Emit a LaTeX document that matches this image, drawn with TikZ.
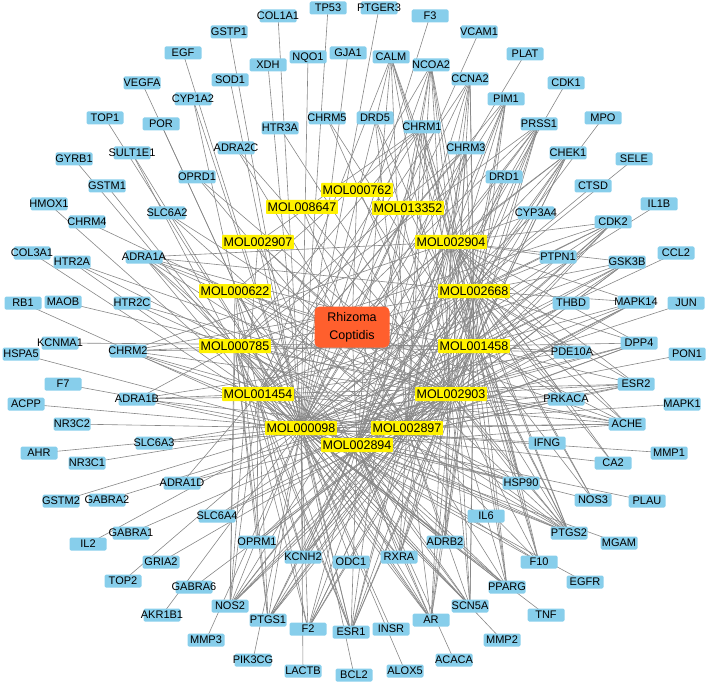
\documentclass[tikz,border=0pt]{standalone}
\usepackage{fontspec}
\setmainfont{Liberation Sans}
\usetikzlibrary{backgrounds}
\definecolor{tblue}{RGB}{135,206,235}
\definecolor{herbc}{RGB}{255,95,45}
\definecolor{edgec}{RGB}{135,135,135}
\tikzset{
 tgt/.style={fill=tblue, rounded corners=1.5pt, minimum width=37pt, minimum height=13pt, inner sep=0pt},
 tlab/.style={inner sep=0pt, font=\fontsize{11}{11}\selectfont, text=black, text height=7.9pt, text depth=0pt},
 mol/.style={fill=yellow, rounded corners=0.8pt, inner xsep=1.5pt, inner ysep=0pt, minimum height=14pt, text height=9pt, text depth=0pt, font=\fontsize{12.5}{12.5}\selectfont},
 herb/.style={fill=herbc, rounded corners=5pt, minimum width=75pt, minimum height=41pt, align=center, font=\fontsize{12.5}{18}\selectfont},
 edge/.style={draw=edgec, line width=0.6pt}
}
\newcommand\tg[3]{\node[tgt,label={[tlab]center:#1}] (#1) at (#2,#3) {};}
\begin{document}
\begin{tikzpicture}[x=1pt,y=-1pt]
\useasboundingbox (0,0) rectangle (708,684);
% central herb
\node[herb] (herb) at (352,327) {Rhizoma\\Coptidis};
% compounds
\node[mol] (mA) at (357,190) {MOL000762};
\node[mol] (mB) at (302,207) {MOL008647};
\node[mol] (mC) at (408,208) {MOL013352};
\node[mol] (mD) at (258,242) {MOL002907};
\node[mol] (mE) at (451,242) {MOL002904};
\node[mol] (mF) at (235,291) {MOL000622};
\node[mol] (mG) at (474,291) {MOL002668};
\node[mol] (mH) at (235,346) {MOL000785};
\node[mol] (mI) at (474,346) {MOL001458};
\node[mol] (mJ) at (258,394) {MOL001454};
\node[mol] (mK) at (451,394) {MOL002903};
\node[mol] (mL) at (301,428) {MOL000098};
\node[mol] (mM) at (407,428) {MOL002897};
\node[mol] (mN) at (357,445) {MOL002894};
% targets
\tg{TP53}{328}{8}
\tg{COL1A1}{278}{16}
\tg{PTGER3}{379}{8}
\tg{F3}{430}{16}
\tg{GSTP1}{229}{32}
\tg{VCAM1}{479}{32}
\tg{EGF}{183}{53}
\tg{NQO1}{308}{57}
\tg{GJA1}{348}{53}
\tg{CALM}{391}{57}
\tg{PLAT}{525}{54}
\tg{XDH}{268}{65}
\tg{NCOA2}{431}{65}
\tg{SOD1}{230}{80}
\tg{CCNA2}{470}{79}
\tg{VEGFA}{142}{83}
\tg{CDK1}{566}{83}
\tg{CYP1A2}{193}{99}
\tg{PIM1}{506}{99}
\tg{TOP1}{105}{118}
\tg{CHRM5}{327}{118}
\tg{DRD5}{375}{118}
\tg{MPO}{603}{118}
\tg{POR}{161}{124}
\tg{PRSS1}{539}{124}
\tg{CHRM1}{422}{127}
\tg{HTR3A}{280}{128}
\tg{ADRA2C}{236}{148}
\tg{CHRM3}{466}{148}
\tg{SULT1E1}{132}{153}
\tg{CHEK1}{568}{153}
\tg{GYRB1}{74}{159}
\tg{SELE}{634}{159}
\tg{OPRD1}{197}{177}
\tg{DRD1}{504}{177}
\tg{GSTM1}{107}{186}
\tg{CTSD}{593}{186}
\tg{HMOX1}{49}{204}
\tg{IL1B}{659}{204}
\tg{SLC6A2}{167}{213}
\tg{CYP3A4}{536}{213}
\tg{CHRM4}{87}{222}
\tg{CDK2}{613}{222}
\tg{COL3A1}{32}{253}
\tg{CCL2}{676}{253}
\tg{ADRA1A}{144}{257}
\tg{PTPN1}{558}{257}
\tg{HTR2A}{72}{262}
\tg{GSK3B}{627}{262}
\tg{RB1}{23}{303}
\tg{JUN}{686}{303}
\tg{MAOB}{63}{302}
\tg{MAPK14}{636}{302}
\tg{HTR2C}{132}{303}
\tg{THBD}{571}{303}
\tg{KCNMA1}{60}{343}
\tg{DPP4}{639}{343}
\tg{HSPA5}{21}{354}
\tg{PON1}{687}{354}
\tg{CHRM2}{128}{351}
\tg{PDE10A}{572}{352}
\tg{F7}{63}{384}
\tg{ESR2}{636}{384}
\tg{ADRA1B}{137}{399}
\tg{PRKACA}{566}{399}
\tg{ACPP}{26}{404}
\tg{MAPK1}{682}{404}
\tg{NR3C2}{72}{424}
\tg{ACHE}{627}{424}
\tg{SLC6A3}{154}{443}
\tg{IFNG}{547}{443}
\tg{AHR}{39}{453}
\tg{MMP1}{669}{453}
\tg{NR3C1}{87}{463}
\tg{CA2}{613}{463}
\tg{ADRA1D}{182}{483}
\tg{HSP90}{521}{483}
\tg{GSTM2}{61}{501}
\tg{GABRA2}{107}{500}
\tg{NOS3}{593}{500}
\tg{PLAU}{647}{501}
\tg{SLC6A4}{217}{516}
\tg{IL6}{486}{516}
\tg{GABRA1}{131}{533}
\tg{PTGS2}{569}{533}
\tg{IL2}{88}{544}
\tg{MGAM}{619}{543}
\tg{OPRM1}{257}{542}
\tg{ADRB2}{445}{542}
\tg{GRIA2}{161}{562}
\tg{F10}{539}{562}
\tg{KCNH2}{303}{557}
\tg{RXRA}{399}{557}
\tg{ODC1}{351}{562}
\tg{TOP2}{123}{581}
\tg{EGFR}{585}{582}
\tg{GABRA6}{194}{587}
\tg{PPARG}{507}{587}
\tg{NOS2}{230}{606}
\tg{SCN5A}{470}{606}
\tg{AKR1B1}{162}{615}
\tg{TNF}{546}{615}
\tg{PTGS1}{268}{620}
\tg{AR}{431}{620}
\tg{F2}{308}{629}
\tg{ESR1}{351}{632}
\tg{INSR}{391}{629}
\tg{MMP3}{206}{640}
\tg{MMP2}{502}{640}
\tg{PIK3CG}{253}{660}
\tg{ACACA}{454}{660}
\tg{LACTB}{303}{671}
\tg{ALOX5}{405}{671}
\tg{BCL2}{354}{675}
% connectors
\begin{pgfonlayer}{background}
\foreach \m in {mA,mB,mC,mD,mE,mF,mG,mH,mI,mJ,mK,mL,mM,mN}
  {\draw[edge] (herb.center) -- (\m.center);}
\foreach \t/\ms in {
 TP53/mL, COL1A1/mL, PTGER3/mL, F3/mL, GSTP1/mL, VCAM1/mL, EGF/mL, NQO1/mL,
 GJA1/mL, PLAT/mL, XDH/mL, SOD1/mL, VEGFA/mL, CDK1/mN, CYP1A2/{mL,mJ},
 TOP1/mL, MPO/mN, POR/mL, SULT1E1/{mL,mJ}, GYRB1/mL, SELE/mL, GSTM1/mL,
 CTSD/mL, HMOX1/mL, IL1B/mL, COL3A1/mL, CCL2/mL, RB1/mL, JUN/mL, THBD/mL,
 HSPA5/mL, PON1/mL, F7/mL, MAPK1/mL, ACPP/mL, NR3C2/mL, IFNG/mL, AHR/mL,
 MMP1/mL, NR3C1/mL, GSTM2/mL, PLAU/mL, IL6/mL, IL2/mL, MGAM/mL, EGFR/mL,
 TOP2/mL, TNF/mL, AKR1B1/mL, MMP3/mL, MMP2/mL, PIK3CG/mL, ACACA/mN,
 LACTB/mL, ALOX5/mL, BCL2/mL, ODC1/mL, INSR/mL,
 CHRM4/mK, SLC6A2/{mK,mM}, OPRD1/{mK,mM}, ADRA2C/{mK,mM}, HTR3A/mK,
 CHRM5/{mK,mI}, DRD5/{mK,mI,mM}, DRD1/{mK,mM,mN},
 CALM/{mL,mE,mG,mI,mK,mM,mN,mJ},
 NCOA2/{mL,mE,mG,mI,mK,mM,mN,mC,mA},
 CHRM1/{mE,mG,mI,mK,mM,mN,mJ,mH,mF,mD},
 CCNA2/{mL,mE,mG,mI,mK,mM,mN,mJ},
 PIM1/{mL,mE,mG,mI,mK,mM,mN,mJ},
 PRSS1/{mL,mE,mG,mI,mK,mM,mN,mJ,mH},
 CHRM3/{mE,mI,mK,mM,mN,mJ,mH},
 CHEK1/{mL,mE,mG,mI,mK,mM,mN,mJ},
 CYP3A4/{mL,mE,mK},
 CDK2/{mL,mE,mG,mI,mK,mM,mN,mJ,mH},
 PTPN1/{mE,mG,mI},
 GSK3B/{mL,mE,mG,mI,mK,mM,mN,mJ},
 MAPK14/{mL,mE,mG,mI,mK,mM,mN},
 DPP4/{mL,mE,mG,mI,mK,mM,mN},
 PDE10A/{mE,mG,mI,mK,mH,mJ},
 ESR2/{mL,mE,mG,mI,mK,mM,mN,mJ},
 PRKACA/{mL,mE,mG,mI,mK,mN},
 ACHE/{mL,mE,mG,mI,mK,mM,mN,mJ,mH,mF},
 CA2/{mL,mE,mG},
 HSP90/{mL,mE,mG,mI,mK,mM,mN,mJ},
 NOS3/{mL,mE,mG,mI},
 PTGS2/{mL,mE,mG,mI,mK,mM,mN,mJ,mH,mF,mD,mB,mA,mC},
 F10/{mL,mE,mG,mI,mK,mM,mN},
 PPARG/{mL,mE,mG,mI,mK,mM,mN,mJ,mH},
 SCN5A/{mL,mE,mG,mI,mK,mM,mN,mJ,mH,mF},
 AR/{mL,mE,mG,mI,mK,mM,mN,mJ,mH,mF,mD},
 ADRB2/{mL,mE,mG,mI,mK,mM,mN,mJ,mH},
 RXRA/{mL,mE,mG,mI,mK,mM,mN,mJ},
 ESR1/{mL,mE,mG,mI,mK,mM,mN,mJ,mH,mF,mD,mC},
 F2/{mL,mE,mG,mI,mK,mM,mN,mJ,mH},
 PTGS1/{mL,mE,mG,mI,mK,mM,mN,mJ,mH,mF},
 KCNH2/{mL,mE,mG,mI,mK,mM,mN,mJ,mH},
 OPRM1/{mK,mM,mN,mJ,mH},
 NOS2/{mL,mE,mG,mI,mK,mM,mN,mJ,mH,mF,mD},
 GABRA6/mK, GRIA2/mK, SLC6A4/{mK,mM,mI}, GABRA1/mK, GABRA2/mK,
 ADRA1D/{mK,mM,mJ}, SLC6A3/{mK,mM},
 ADRA1B/{mK,mM,mJ,mH,mI,mN},
 CHRM2/{mK,mM,mJ,mH,mI,mN,mE,mG},
 KCNMA1/mI, MAOB/mK, HTR2C/{mK,mM}, HTR2A/{mK,mM,mJ},
 ADRA1A/{mK,mM,mJ,mH,mI,mN,mE,mG,mF}}{\foreach \m in \ms {\draw[edge] (\t.center) -- (\m.center);}}
\end{pgfonlayer}
\end{tikzpicture}
\end{document}
